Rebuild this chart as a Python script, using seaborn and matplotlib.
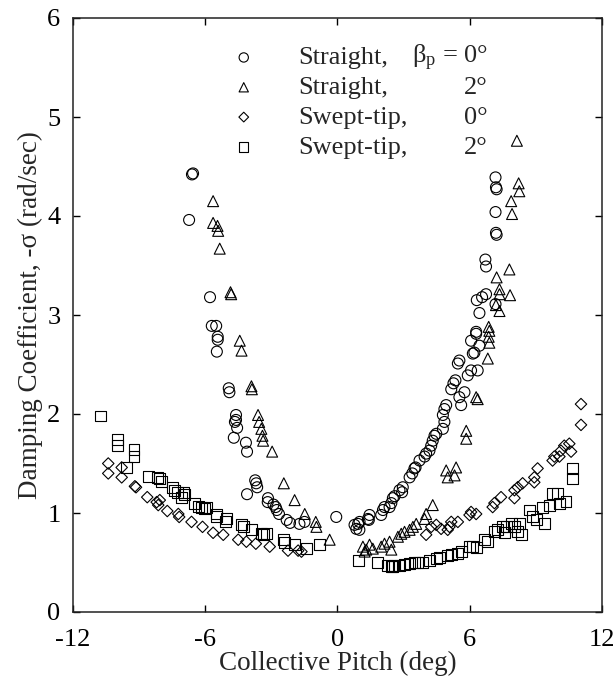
import matplotlib
matplotlib.use("Agg")
import matplotlib.pyplot as plt
import seaborn as sns
import pandas as pd

# ---------------- data ----------------
straight0_x = [-6.73, -6.6, -6.55, -5.78, -5.7, -5.5, -5.43, -5.43, -5.47, -4.93, -4.9, -4.6, -4.6, -4.65,
               -4.55, -4.7, -4.15, -4.1, -3.73, -3.68, -3.64, -4.1, -3.15, -3.16, -2.9, -2.8, -2.75, -2.65,
               -2.3, -2.15, -1.72, -1.49, -0.05,
               0.78, 0.86, 0.94, 1.01, 1.0, 1.39, 1.46, 1.43, 1.99, 2.07, 2.14, 2.37, 2.45, 2.52, 2.6, 2.82,
               2.97, 2.94, 3.28, 3.4, 3.5, 3.55, 3.73, 3.96, 4.03, 4.18, 4.26, 4.33, 4.41, 4.49, 4.79, 4.86,
               4.79, 4.86, 4.94, 5.17, 5.27, 5.36, 5.47, 5.54, 5.54, 5.62, 5.77, 5.92, 6.07, 6.37, 6.15, 6.3,
               6.07, 6.22, 6.45, 6.72, 6.75, 6.75, 6.57, 6.33, 7.18, 6.45, 6.3, 7.18, 7.2, 7.23, 7.18, 7.2, 7.23]
straight0_y = [3.96, 4.42, 4.43, 3.18, 2.89, 2.89, 2.78, 2.75, 2.63, 2.26, 2.22, 1.99, 1.94, 1.92,
               1.86, 1.76, 1.71, 1.62, 1.33, 1.30, 1.26, 1.19, 1.15, 1.11, 1.085, 1.06, 1.03, 0.99,
               0.93, 0.90, 0.89, 0.91, 0.96,
               0.88, 0.84, 0.89, 0.91, 0.83, 0.94, 0.98, 0.93, 0.98, 1.03, 1.06, 1.06, 1.10, 1.15, 1.17, 1.23,
               1.26, 1.21, 1.36, 1.40, 1.45, 1.46, 1.53, 1.57, 1.60, 1.63, 1.68, 1.73, 1.78, 1.80, 1.85, 1.92,
               1.99, 2.05, 2.09, 2.25, 2.31, 2.34, 2.51, 2.54, 2.17, 2.09, 2.22, 2.39, 2.44, 2.44, 2.61, 2.83,
               2.74, 2.62, 2.69, 3.56, 3.49, 3.21, 3.18, 3.15, 3.11, 3.02, 2.81, 4.39, 4.29, 4.27, 4.04, 3.83, 3.81]

straight2_x = [-5.64, -5.64, -5.44, -5.41, -5.34, -4.85, -4.82, -4.43, -4.35, -3.9, -3.88, -3.6, -3.55,
               -3.45, -3.4, -3.37, -2.96, -2.43, -1.94, -1.48, -0.98, -0.95, -0.35,
               1.16, 1.31, 1.46, 1.24, 1.61, 1.99, 2.14, 2.37, 2.45, 2.75, 2.9, 3.05, 3.28, 3.43, 3.58, 3.96,
               4.03, 4.33, 4.94, 5.01, 5.39, 5.32, 5.85, 5.85, 6.3, 6.37, 6.83, 6.9, 6.9, 8.15, 8.23, 8.26,
               7.89, 7.93, 7.81, 7.23, 7.36, 7.36, 7.84, 7.2, 7.36, 6.87, 6.87]
straight2_y = [4.15, 3.93, 3.90, 3.85, 3.67, 3.23, 3.21, 2.74, 2.64, 2.28, 2.25, 1.99, 1.92,
               1.85, 1.78, 1.73, 1.62, 1.30, 1.13, 0.99, 0.91, 0.86, 0.73,
               0.66, 0.63, 0.68, 0.61, 0.64, 0.66, 0.69, 0.71, 0.63, 0.76, 0.79, 0.81, 0.83, 0.86, 0.89, 0.94,
               0.99, 1.08, 1.43, 1.36, 1.46, 1.38, 1.83, 1.75, 2.17, 2.15, 2.56, 2.72, 2.84, 4.76, 4.33, 4.25,
               4.15, 4.02, 3.46, 3.38, 3.26, 3.21, 3.20, 3.10, 3.04, 2.88, 2.78]

swept0_x = [-10.4, -10.4, -9.79, -9.79, -9.19, -9.14, -8.63, -8.2, -8.13, -8.06, -7.72, -7.22, -7.18,
            -6.62, -6.12, -5.64, -5.18, -4.5, -4.13, -3.7, -3.07, -2.24, -1.78, -1.63,
            4.03, 4.26, 4.49, 4.71, 5.01, 5.09, 5.17, 5.47, 6.0, 6.07, 6.3, 7.05, 7.13, 7.43, 8.04, 8.04,
            8.19, 8.41, 8.94, 8.94, 9.09, 9.77, 9.85, 10.08, 10.15, 10.3, 10.53, 10.61, 11.06, 11.06]
swept0_y = [1.50, 1.40, 1.46, 1.36, 1.27, 1.26, 1.16, 1.11, 1.08, 1.13, 1.02, 0.99, 0.96,
            0.91, 0.86, 0.80, 0.78, 0.73, 0.71, 0.69, 0.66, 0.62, 0.62, 0.61,
            0.78, 0.86, 0.88, 0.84, 0.83, 0.86, 0.91, 0.91, 0.98, 1.01, 0.99, 1.06, 1.10, 1.16, 1.15, 1.23,
            1.26, 1.30, 1.31, 1.36, 1.45, 1.53, 1.57, 1.57, 1.63, 1.68, 1.70, 1.62, 1.89, 2.10]

swept2_x = [-10.74, -9.99, -9.99, -9.23, -9.23, -9.57, -8.59, -8.18, -8.06, -7.98, -7.48, -7.38, -7.27,
            -7.0, -7.07, -6.92, -6.47, -6.32, -6.17, -6.02, -5.94, -5.49, -5.49, -5.03, -5.06, -4.35,
            -4.28, -3.9, -3.37, -3.22, -3.45, -2.43, -2.39, -1.94, -1.41, -0.8,
            0.94, 1.84, 2.29, 2.45, 2.6, 2.52, 2.82, 3.05, 3.28, 3.5, 3.66, 3.88, 4.18, 4.49, 4.64, 5.01,
            5.17, 5.47, 5.62, 6.0, 6.15, 6.3, 6.68, 6.83, 7.13, 7.28, 7.51, 7.58, 7.66, 7.89, 8.04, 8.26,
            8.19, 8.34, 8.72, 8.87, 9.02, 9.32, 9.4, 9.62, 9.77, 10.0, 10.08, 10.38, 10.68, 10.68]
swept2_y = [1.98, 1.74, 1.68, 1.64, 1.57, 1.46, 1.37, 1.36, 1.35, 1.32, 1.26, 1.23, 1.21,
            1.21, 1.16, 1.19, 1.10, 1.07, 1.06, 1.05, 1.06, 0.99, 0.96, 0.94, 0.91, 0.88,
            0.86, 0.83, 0.78, 0.79, 0.79, 0.73, 0.70, 0.68, 0.64, 0.68,
            0.52, 0.50, 0.47, 0.46, 0.47, 0.46, 0.47, 0.48, 0.49, 0.50, 0.50, 0.50, 0.52, 0.54, 0.55, 0.57,
            0.58, 0.59, 0.61, 0.66, 0.66, 0.65, 0.73, 0.71, 0.81, 0.83, 0.86, 0.80, 0.86, 0.89, 0.86, 0.89,
            0.81, 0.78, 1.03, 0.96, 0.93, 1.06, 0.89, 1.08, 1.20, 1.20, 1.10, 1.12, 1.45, 1.35]

series_names = ["Straight,", "Straight,", "Swept-tip,", "Swept-tip,"]
series_angles = ["β$_{\\rm p}$ = 0°", "2°", "0°", "2°"]
x_ticks = [-12, -6, 0, 6, 12]
x_tick_labels = ["-12", "-6", "0", "6", "12"]
y_ticks = [0, 1, 2, 3, 4, 5, 6]
y_tick_labels = ["0", "1", "2", "3", "4", "5", "6"]

# ---------------- plot ----------------
sns.set_theme(style="ticks")
plt.rcParams["font.family"] = ["Liberation Serif", "DejaVu Serif"]
plt.rcParams["mathtext.fontset"] = "custom"
plt.rcParams["mathtext.rm"] = "Liberation Serif"
plt.rcParams["mathtext.it"] = "Liberation Serif:italic"

FS = 19.5
fig = plt.figure(figsize=(6.15, 6.86), dpi=100)
ax = fig.add_axes([73 / 615, 1 - 612 / 686, (601.7 - 73) / 615, (612 - 18) / 686])

data = [(straight0_x, straight0_y, "o", 62), (straight2_x, straight2_y, "^", 62),
        (swept0_x, swept0_y, "D", 34), (swept2_x, swept2_y, "s", 62)]
for (xs, ys, mk, sz), name in zip(data, series_names):
    df = pd.DataFrame({"x": xs, "y": ys})
    sns.scatterplot(data=df, x="x", y="y", marker=mk, s=sz, facecolor="none",
                    edgecolor="black", linewidth=0.8, ax=ax, label=name, zorder=3)

ax.set_xlim(-12, 12)
ax.set_ylim(0, 6)
ax.set_xticks(x_ticks)
ax.set_xticklabels(x_tick_labels)
ax.set_yticks(y_ticks)
ax.set_yticklabels(y_tick_labels)
ax.tick_params(direction="in", length=5, width=1, labelsize=FS - 0.5, top=True, right=True,
               colors="black")
ax.tick_params(axis="x", pad=12)
ax.tick_params(axis="y", pad=9)
for sp in ax.spines.values():
    sp.set_visible(True)
    sp.set_color("#222222")
    sp.set_linewidth(1.1)
ax.set_xlabel("Collective Pitch (deg)", fontsize=FS, labelpad=0)
ax.set_ylabel("Damping Coefficient, -σ (rad/sec)", fontsize=FS, labelpad=3)

leg = ax.legend(loc="upper left", bbox_to_anchor=(0.298, 0.953), frameon=False, fontsize=FS - 0.5,
                handlelength=1.0, handletextpad=1.55, labelspacing=0.24, borderpad=0,
                borderaxespad=0, markerscale=0.85)

fig.canvas.draw()
renderer = fig.canvas.get_renderer()
inv = fig.transFigure.inverted()
for txt, ang in zip(leg.get_texts(), series_angles):
    bb = txt.get_window_extent(renderer)
    ycen = (bb.y0 + bb.y1) / 2
    xr = 488
    fx, fy = inv.transform((xr, ycen))
    fig.text(fx, fy, ang, ha="right", va="center", fontsize=FS - 0.5)

fig.savefig("out.png", dpi=100)
